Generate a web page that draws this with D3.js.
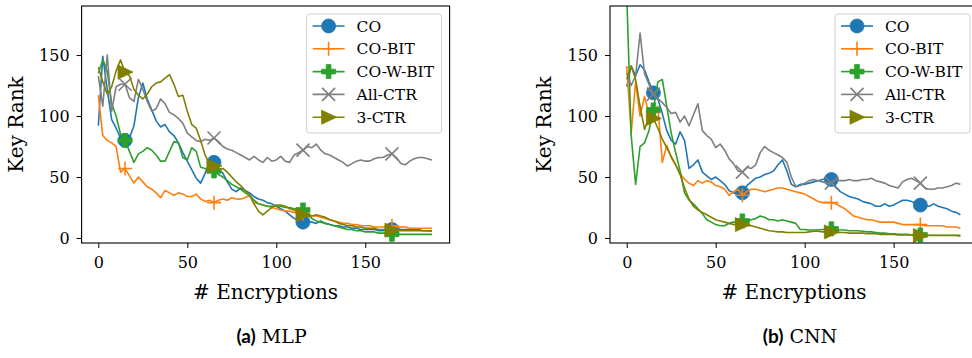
<!DOCTYPE html>
<html lang="en">
<head>
<meta charset="UTF-8">
<title>Key rank vs encryptions</title>
<script src="https://d3js.org/d3.v7.min.js"></script>
<style>
body {margin: 0; background: white;}
svg {display: block;}
</style>
</head>
<body>
<svg width="972" height="358"></svg>
<script>
// encryptions sampled every 2.5
const enc = d3.range(0, 190, 2.5);
const markEnc = [15, 65, 115, 165];
const xTicks = [0, 50, 100, 150];
const yTicks = [0, 50, 100, 150];
const seriesNames = ["CO", "CO-BIT", "CO-W-BIT", "All-CTR", "3-CTR"];
const seriesColors = ["#1f77b4", "#ff7f0e", "#2ca02c", "#7f7f7f", "#808000"];
const seriesMarkers = ["circle", "plus", "pfill", "times", "tri"];

// (a) MLP
const mlpCO = [92,149,122,97,90,82,80,82,92,115,
  127,114,105,96,91,93,87,84,78,70,
  63,56,49,45,53,63,62,57,53,46,
  40,38,41,39,37,34,32,31,29,28,
  26,24,22,19,16,15,13,14,13,12,
  14,12,11,10,10,9,9,8,8,7,
  7,7,7,6,6,7,7,8,7,7,
  7,7,7,6,6,6];
const mlpCOBIT = [117,84,80,78,75,54,57,51,45,50,
  46,42,40,37,33,39,37,35,37,36,
  34,34,36,32,30,31,29,31,32,31,
  33,32,32,33,35,29,28,27,26,25,
  24,23,22,22,21,20,20,19,18,18,
  17,16,15,14,13,12,12,11,11,10,
  10,10,9,9,9,10,10,9,9,9,
  8,8,8,8,8,8];
const mlpCOWBIT = [135,146,137,110,100,85,80,71,62,69,
  71,74,72,68,63,63,71,79,78,66,
  64,74,71,58,57,56,55,52,50,47,
  44,42,40,37,35,31,28,27,26,26,
  26,26,25,25,24,24,23,19,16,14,
  13,12,11,10,9,8,7,7,6,6,
  5,5,5,4,4,4,3,3,3,3,
  3,3,3,3,3,3];
const mlpAllCTR = [133,108,150,104,124,126,126,115,112,130,
  122,112,104,106,114,110,103,101,98,94,
  86,83,80,79,81,80,82,79,75,73,
  72,70,68,66,64,67,64,62,66,63,
  64,67,63,62,68,70,72,75,74,77,
  72,69,68,66,64,62,59,61,63,64,
  63,63,65,66,66,68,69,66,61,60,
  63,65,66,66,65,64];
const mlp3CTR = [140,128,118,124,137,146,136,133,122,117,
  114,118,124,127,128,131,134,126,116,117,
  104,93,90,80,68,61,59,56,57,54,
  50,46,43,39,35,28,22,19,22,25,
  27,27,26,24,23,21,19,18,18,19,
  18,17,15,14,12,11,10,10,9,9,
  8,8,8,7,7,7,6.5,6,6,6,
  6,6,6,6,6,5.5];

// (b) CNN
const cnnCO = [124,141,133,142,138,128,119,114,102,88,
  80,77,87,80,57,60,64,54,51,48,
  50,47,44,39,37,36,37,43,46,49,
  50,52,53,55,60,64,55,44,42,44,
  44,45,46,47,48,49,48,42,38,36,
  34,33,32,30,29,28,26,26,28,26,
  27,29,31,31,30,28,27,26,26,28,
  26,25,24,22,21,19];
const cnnCOBIT = [141,86,128,100,116,102,103,108,62,76,
  66,60,53,48,45,43,47,45,47,46,
  43,42,40,35,38,40,35,38,40,40,
  39,38,39,40,41,41,40,39,38,37,
  36,34,32,30,29,29,29,28,26,24,
  21,18,17,16,15,15,14,13,13,13,
  13,12,11,11,11,11,11,10,10,10,
  10,10,9,9,9,8];
const cnnCOWBIT = [200,84,44,75,78,88,105,128,130,108,
  86,70,55,37,31,28,24,20,15,13,
  11,10,10,12,13,13,14,14,15,16,
  18,17,15,15,14,15,14,13,12,7,
  7,6.5,6.5,6.5,7,7,7.5,7,6.5,6.5,
  6,6,6,5.5,5,5,4.5,4,4,3.5,
  3.5,3,3,3,2.7,2.5,2.5,2.5,2.3,2.2,
  2.2,2.2,2.2,2.2,2.2,2.2];
const cnnAllCTR = [135,125,133,168,135,126,118,114,111,107,
  102,103,95,100,92,101,110,88,84,81,
  74,77,72,65,61,55,54,58,57,60,
  70,75,72,70,68,66,62,50,42,43,
  45,47,48,47,46,45,45,48,47,47,
  48,47,47,48,48,49,47,46,45,43,
  42,41,46,48,49,47,45,41,40,40,
  41,41,42,43,45,44];
const cnn3CTR = [130,141,130,108,89,99,98,90,81,74,
  67,60,52,41,32,26,23,21,19,17,
  15,14,13,12,11,11,11,10,10,9,
  8,7,6,5.5,5,5,4.5,4.5,4.5,4.5,
  4.5,5,5.5,5.5,5,5,5,4.5,4.5,4.5,
  4,4,4,4,3.5,3.5,3.5,3,3,3,
  3,2.5,2.5,2.5,2.5,2,2,2,2,2,
  2,2,2,2,2,1.5];

const panels = [
  {tag: "(a)", title: "MLP", left: 81.6, series: [mlpCO, mlpCOBIT, mlpCOWBIT, mlpAllCTR, mlp3CTR]},
  {tag: "(b)", title: "CNN", left: 610, series: [cnnCO, cnnCOBIT, cnnCOWBIT, cnnAllCTR, cnn3CTR]}
];

const serif = "'DejaVu Serif', serif";
const svg = d3.select("svg");
const plotW = 368, plotTop = 6, plotBottom = 243;

const y = d3.scaleLinear().domain([-4.1, 190.2]).range([plotBottom, plotTop]);

function markerPath(kind) {
  if (kind == "circle") return d3.symbol(d3.symbolCircle, Math.PI * 49)();
  if (kind == "pfill") return d3.symbol(d3.symbolCross, 109)();
  if (kind == "plus") return "M-7,0H7M0,-7V7";
  if (kind == "times") return "M-6.5,-6.5L6.5,6.5M-6.5,6.5L6.5,-6.5";
  return "M8,0L-7,-7L-7,7Z";
}
function styleMarker(sel, i) {
  const stroked = seriesMarkers[i] == "plus" || seriesMarkers[i] == "times";
  sel.attr("d", markerPath(seriesMarkers[i]))
    .attr("fill", stroked ? "none" : seriesColors[i])
    .attr("stroke", seriesColors[i])
    .attr("stroke-width", stroked ? 1.6 : 0.8);
}

panels.forEach(function(p, pi) {
  const x = d3.scaleLinear().domain([-9.4, 197.4]).range([p.left, p.left + plotW]);
  const g = svg.append("g").attr("font-family", serif);

  const clipId = "clip" + pi;
  svg.append("clipPath").attr("id", clipId)
    .append("rect").attr("x", p.left).attr("y", plotTop)
    .attr("width", plotW).attr("height", plotBottom - plotTop);

  const plot = g.append("g").attr("clip-path", "url(#" + clipId + ")");
  const line = d3.line().x(function(d, i) { return x(enc[i]); }).y(function(d) { return y(d); });

  p.series.forEach(function(vals, si) {
    plot.append("path")
      .datum(vals)
      .attr("d", line)
      .attr("fill", "none")
      .attr("stroke", seriesColors[si])
      .attr("stroke-width", 1.6)
      .attr("stroke-linejoin", "round");
    plot.selectAll(null)
      .data(markEnc)
      .enter()
      .append("path")
      .attr("transform", function(m) { return "translate(" + x(m) + "," + y(vals[enc.indexOf(m)]) + ")"; })
      .call(styleMarker, si);
  });

  // axes
  const xa = g.append("g").attr("transform", "translate(0," + plotBottom + ")")
    .call(d3.axisBottom(x).tickValues(xTicks).tickSize(5).tickPadding(9));
  const ya = g.append("g").attr("transform", "translate(" + p.left + ",0)")
    .call(d3.axisLeft(y).tickValues(yTicks).tickSize(5).tickPadding(7));
  [xa, ya].forEach(function(a) {
    a.attr("font-family", serif).attr("font-size", 16);
    a.select(".domain").remove();
    a.selectAll("line").attr("stroke", "#000").attr("stroke-width", 1);
    a.selectAll("text").attr("fill", "#000");
  });

  g.append("rect")
    .attr("x", p.left).attr("y", plotTop)
    .attr("width", plotW).attr("height", plotBottom - plotTop)
    .attr("fill", "none").attr("stroke", "#000").attr("stroke-width", 1.1);

  g.append("text")
    .attr("transform", "translate(" + (p.left - 59) + "," + ((plotTop + plotBottom) / 2) + ") rotate(-90)")
    .attr("text-anchor", "middle")
    .attr("font-size", 20)
    .text("Key Rank");

  g.append("text")
    .attr("x", p.left + plotW / 2).attr("y", 299)
    .attr("text-anchor", "middle")
    .attr("font-size", 20)
    .text("# Encryptions");

  const cap = g.append("text")
    .attr("x", p.left + plotW / 2 + 6).attr("y", 343)
    .attr("text-anchor", "middle");
  cap.append("tspan").attr("font-family", "Lato, 'Open Sans', sans-serif").attr("font-weight", "bold")
    .attr("font-size", 19).text(p.tag);
  cap.append("tspan").attr("font-size", 19).text(" " + p.title);

  // legend
  const lg = g.append("g").attr("transform", "translate(" + (p.left + plotW - 143) + ",14)");
  lg.append("rect")
    .attr("width", 135).attr("height", 119).attr("rx", 3)
    .attr("fill", "white").attr("fill-opacity", 0.85)
    .attr("stroke", "#d0d0d0").attr("stroke-width", 1);
  seriesNames.forEach(function(name, si) {
    const cy = 12 + si * 22.8;
    lg.append("line")
      .attr("x1", 6).attr("x2", 38).attr("y1", cy).attr("y2", cy)
      .attr("stroke", seriesColors[si]).attr("stroke-width", 1.6);
    lg.append("path").attr("transform", "translate(22," + cy + ")").call(styleMarker, si);
    lg.append("text")
      .attr("x", 50).attr("y", cy + 5.5)
      .attr("font-size", 15.5)
      .text(name);
  });
});
</script>
</body>
</html>
